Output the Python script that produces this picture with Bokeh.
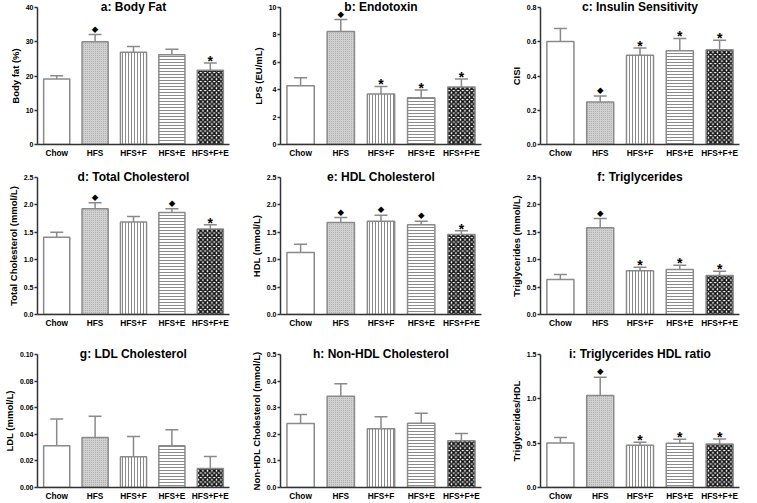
from bokeh.plotting import figure
from bokeh.layouts import gridplot
from bokeh.models import ColumnDataSource, Whisker, TeeHead, FixedTicker, PrintfTickFormatter
from bokeh.core.properties import value
from bokeh.embed import file_html
from bokeh.resources import INLINE

groups = ["Chow", "HFS", "HFS+F", "HFS+E", "HFS+F+E"]

# a: Body Fat
body_fat_mean = [19.1, 30.0, 26.9, 26.2, 21.7]
body_fat_sem = [1.0, 2.1, 1.7, 1.6, 2.1]
body_fat_sig = ["", "d", "", "", "s"]
body_fat_ticks = [0, 10, 20, 30, 40]

# b: Endotoxin
lps_mean = [4.29, 8.24, 3.68, 3.41, 4.20]
lps_sem = [0.59, 0.88, 0.56, 0.57, 0.58]
lps_sig = ["", "d", "s", "s", "s"]
lps_ticks = [0, 2, 4, 6, 8, 10]

# c: Insulin Sensitivity
cisi_mean = [0.601, 0.248, 0.521, 0.548, 0.554]
cisi_sem = [0.076, 0.035, 0.043, 0.071, 0.055]
cisi_sig = ["", "d", "s", "s", "s"]
cisi_ticks = [0.0, 0.2, 0.4, 0.6, 0.8]

# d: Total Cholesterol
tc_mean = [1.41, 1.93, 1.69, 1.86, 1.56]
tc_sem = [0.09, 0.11, 0.10, 0.07, 0.08]
tc_sig = ["", "d", "", "d", "s"]
tc_ticks = [0.0, 0.5, 1.0, 1.5, 2.0, 2.5]

# e: HDL Cholesterol
hdl_mean = [1.13, 1.68, 1.70, 1.64, 1.46]
hdl_sem = [0.15, 0.09, 0.11, 0.06, 0.07]
hdl_sig = ["", "d", "d", "d", "s"]
hdl_ticks = [0.0, 0.5, 1.0, 1.5, 2.0, 2.5]

# f: Triglycerides
tg_mean = [0.64, 1.585, 0.80, 0.82, 0.71]
tg_sem = [0.09, 0.165, 0.06, 0.08, 0.08]
tg_sig = ["", "d", "s", "s", "s"]
tg_ticks = [0.0, 0.5, 1.0, 1.5, 2.0, 2.5]

# g: LDL Cholesterol
ldl_mean = [0.0313, 0.0376, 0.0231, 0.0313, 0.0143]
ldl_sem = [0.0202, 0.0160, 0.0152, 0.0121, 0.0090]
ldl_sig = ["", "", "", "", ""]
ldl_ticks = [0.00, 0.02, 0.04, 0.06, 0.08, 0.10]

# h: Non-HDL Cholesterol
nonhdl_mean = [0.241, 0.343, 0.221, 0.242, 0.176]
nonhdl_sem = [0.033, 0.047, 0.045, 0.037, 0.027]
nonhdl_sig = ["", "", "", "", ""]
nonhdl_ticks = [0.0, 0.1, 0.2, 0.3, 0.4, 0.5]

# i: Triglycerides HDL ratio
ratio_mean = [0.502, 1.038, 0.477, 0.499, 0.491]
ratio_sem = [0.063, 0.205, 0.033, 0.044, 0.055]
ratio_sig = ["", "d", "s", "s", "s"]
ratio_ticks = [0.0, 0.5, 1.0, 1.5]

titles = ["a: Body Fat", "b: Endotoxin", "c: Insulin Sensitivity",
          "d: Total Cholesterol", "e: HDL Cholesterol", "f: Triglycerides",
          "g: LDL Cholesterol", "h: Non-HDL Cholesterol", "i: Triglycerides HDL ratio"]
ylabels = ["Body fat (%)", "LPS (EU/mL)", "CISI",
           "Total Cholesterol (mmol/L)", "HDL (mmol/L)", "Triglycerides (mmol/L)",
           "LDL (mmol/L)", "Non-HDL Cholesterol (mmol/L)", "Triglycerides/HDL"]

# styles
FONT = "Liberation Sans"
bar_fill = ["#ffffff", "#d0d0d0", "#ffffff", "#ffffff", "#ffffff"]
bar_hatch = [" ", "dot", "vertical_line", "horizontal_line", "diagonal_cross"]
bar_hatch_color = ["#ffffff", "#a8a8a8", "#8a8a8a", "#8a8a8a", "#111111"]
bar_hatch_scale = [4, 2, 3, 3, 4.5]
bar_hatch_weight = [1, 1, 1, 1, 1.6]

col_w = [244, 248, 249]
row_h = [165, 168, 170]
border_right = [15, 11, 2]
border_top = [7, 12, 21]
border_bottom = [21, 19, 12]
border_left = [27, 36, 48, 29, 36, 48, 30, 31, 48]
tick_fmt = ["%d", "%d", "%.1f", "%.1f", "%.1f", "%.1f", "%.2f", "%.1f", "%.1f"]

panels = [
    (body_fat_mean, body_fat_sem, body_fat_sig, body_fat_ticks),
    (lps_mean, lps_sem, lps_sig, lps_ticks),
    (cisi_mean, cisi_sem, cisi_sig, cisi_ticks),
    (tc_mean, tc_sem, tc_sig, tc_ticks),
    (hdl_mean, hdl_sem, hdl_sig, hdl_ticks),
    (tg_mean, tg_sem, tg_sig, tg_ticks),
    (ldl_mean, ldl_sem, ldl_sig, ldl_ticks),
    (nonhdl_mean, nonhdl_sem, nonhdl_sig, nonhdl_ticks),
    (ratio_mean, ratio_sem, ratio_sig, ratio_ticks),
]

AXIS = "#333333"
EDGE = "#8a8a8a"


def make_panel(k):
    means, sems, sig, ticks = panels[k]
    r, c = divmod(k, 3)
    upper = [m + s for m, s in zip(means, sems)]
    src = ColumnDataSource(dict(x=groups, mean=means, upper=upper,
                                fill=bar_fill, hatch=bar_hatch, hcolor=bar_hatch_color,
                                hscale=bar_hatch_scale, hweight=bar_hatch_weight))
    p = figure(x_range=groups, y_range=(ticks[0], ticks[-1]),
               width=col_w[c], height=row_h[r],
               output_backend="svg", toolbar_location=None,
               min_border_left=border_left[k], min_border_right=border_right[c],
               min_border_top=border_top[r], min_border_bottom=border_bottom[r])
    p.vbar(x="x", top="mean", width=0.68, source=src,
           fill_color="fill", line_color=EDGE, line_width=1.5,
           hatch_pattern="hatch", hatch_color="hcolor",
           hatch_scale="hscale", hatch_weight="hweight")
    w = Whisker(source=src, base="x", lower="mean", upper="upper",
                line_color=EDGE, line_width=1.5,
                upper_head=TeeHead(size=13, line_color=EDGE, line_width=1.5),
                lower_head=None)
    p.add_layout(w)

    dx = [g for g, s in zip(groups, sig) if s == "d"]
    dy = [u for u, s in zip(upper, sig) if s == "d"]
    sx = [g for g, s in zip(groups, sig) if s == "s"]
    sy = [u for u, s in zip(upper, sig) if s == "s"]
    if dx:
        p.text(x=dx, y=dy, text=["\u25c6"] * len(dx), text_align="center",
               text_baseline="middle", y_offset=-6, text_color="#000000",
               text_font=value("DejaVu Sans"), text_font_size="8.5px")
    if sx:
        p.text(x=sx, y=sy, text=["*"] * len(sx), text_align="center",
               text_baseline="middle", y_offset=-2, text_color="#000000",
               text_font=value(FONT), text_font_style="bold", text_font_size="14px")

    p.title.text = titles[k]
    p.title.align = "center"
    p.title.vertical_align = "bottom"
    p.title.standoff = -13
    p.title.text_font = FONT
    p.title.text_font_style = "bold"
    p.title.text_font_size = "12px"
    p.title.text_color = "#000000"

    p.xgrid.visible = False
    p.ygrid.visible = False
    p.outline_line_color = None
    p.background_fill_color = "#ffffff"

    p.xaxis.axis_line_color = AXIS
    p.xaxis.axis_line_width = 1.5
    p.xaxis.major_tick_line_color = None
    p.xaxis.major_tick_out = 0
    p.xaxis.major_tick_in = 0
    p.xaxis.minor_tick_line_color = None
    p.xaxis.major_label_standoff = 3
    p.xaxis.major_label_text_font = FONT
    p.xaxis.major_label_text_font_style = "bold"
    p.xaxis.major_label_text_font_size = "8.3px"
    p.xaxis.major_label_text_color = "#000000"

    p.yaxis.ticker = FixedTicker(ticks=ticks, minor_ticks=[])
    p.yaxis.formatter = PrintfTickFormatter(format=tick_fmt[k])
    p.yaxis.axis_line_color = AXIS
    p.yaxis.axis_line_width = 1.5
    p.yaxis.major_tick_line_color = AXIS
    p.yaxis.major_tick_line_width = 1.5
    p.yaxis.major_tick_out = 3
    p.yaxis.major_tick_in = 0
    p.yaxis.minor_tick_line_color = None
    p.yaxis.minor_tick_out = 0
    p.yaxis.minor_tick_in = 0
    p.yaxis.major_label_standoff = 1
    p.yaxis.major_label_text_font = FONT
    p.yaxis.major_label_text_font_style = "bold"
    p.yaxis.major_label_text_font_size = "7px"
    p.yaxis.major_label_text_color = "#000000"
    p.yaxis.axis_label = ylabels[k]
    p.yaxis.axis_label_standoff = 2
    p.yaxis.axis_label_text_font = FONT
    p.yaxis.axis_label_text_font_style = "bold"
    p.yaxis.axis_label_text_font_size = "9.5px"
    p.yaxis.axis_label_text_color = "#000000"
    return p


figs = [make_panel(k) for k in range(9)]
grid = gridplot([figs[0:3], figs[3:6], figs[6:9]], toolbar_location=None)

open("out.html", "w").write(file_html(grid, INLINE))
